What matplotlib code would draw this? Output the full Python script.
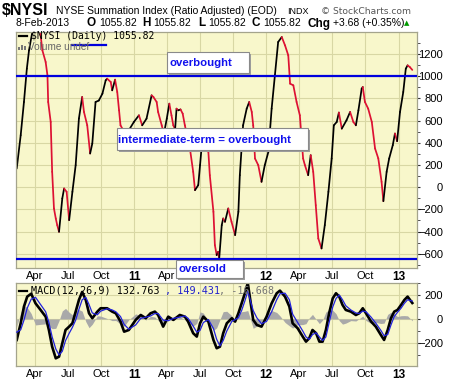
import matplotlib
matplotlib.use("Agg")
import matplotlib.pyplot as plt
import matplotlib.dates as mdates
import numpy as np
import pandas as pd
from matplotlib.collections import LineCollection
from matplotlib.patches import Rectangle
from matplotlib.lines import Line2D

# ---------------- data ----------------
nysi_dates = [
    "2010-02-10", "2010-02-21", "2010-03-02", "2010-03-10", "2010-03-16", "2010-04-02", "2010-04-13",
    "2010-04-22", "2010-05-01", "2010-05-06", "2010-05-08", "2010-05-15", "2010-05-19", "2010-05-24",
    "2010-05-29", "2010-06-02", "2010-06-07", "2010-06-16", "2010-06-21", "2010-06-28", "2010-07-05",
    "2010-07-14", "2010-07-23", "2010-08-01", "2010-08-10", "2010-08-15", "2010-08-24", "2010-09-01",
    "2010-09-07", "2010-09-16", "2010-09-25", "2010-10-05", "2010-10-14", "2010-10-18", "2010-10-28",
    "2010-11-01", "2010-11-09", "2010-11-15", "2010-11-20", "2010-11-24", "2010-12-09", "2010-12-31",
    "2011-01-14", "2011-01-23", "2011-02-04", "2011-02-18", "2011-02-23", "2011-03-04", "2011-03-08",
    "2011-03-18", "2011-03-24", "2011-04-01", "2011-04-08", "2011-04-14", "2011-04-19", "2011-04-24",
    "2011-04-28", "2011-05-03", "2011-05-09", "2011-05-15", "2011-05-21", "2011-06-04", "2011-06-13",
    "2011-06-18", "2011-06-27", "2011-07-02", "2011-07-06", "2011-07-16", "2011-07-25", "2011-07-29",
    "2011-08-08", "2011-08-12", "2011-08-17", "2011-08-21", "2011-08-24", "2011-08-31", "2011-09-04",
    "2011-09-09", "2011-09-18", "2011-09-27", "2011-10-07", "2011-10-16", "2011-10-20", "2011-10-29",
    "2011-11-08", "2011-11-15", "2011-11-22", "2011-11-26", "2011-12-01", "2011-12-10", "2011-12-19",
    "2011-12-28", "2012-01-07", "2012-01-16", "2012-01-25", "2012-02-03", "2012-02-13", "2012-02-22",
    "2012-03-02", "2012-03-07", "2012-03-16", "2012-03-25", "2012-04-03", "2012-04-12", "2012-04-17",
    "2012-04-26", "2012-05-03", "2012-05-10", "2012-05-17", "2012-05-24", "2012-06-02", "2012-06-11",
    "2012-06-21", "2012-06-30", "2012-07-06", "2012-07-14", "2012-07-20", "2012-07-28", "2012-08-10",
    "2012-08-20", "2012-08-29", "2012-09-05", "2012-09-12", "2012-09-21", "2012-09-24", "2012-09-30",
    "2012-10-09", "2012-10-19", "2012-10-28", "2012-11-06", "2012-11-15", "2012-11-20", "2012-11-29",
    "2012-12-06", "2012-12-16", "2012-12-22", "2012-12-28", "2013-01-05", "2013-01-14", "2013-01-21",
    "2013-01-26", "2013-02-01", "2013-02-08",
]
nysi_values = [
    168, 468, 767, 1067, 1232, 1540, 1480,
    1232, 1127, 1007, 767, 587, 138, -192,
    -282, -342, -402, -102, -12, -42, -297,
    -42, 198, 618, 812, 677, 557, 303,
    393, 767, 780, 842, 962, 977, 947,
    872, 968, 857, 692, 557, 470, 587,
    647, 557, 617, 827, 812, 767, 677,
    557, 480, 617, 752, 647, 557, 520,
    707, 692, 700, 662, 557, 348, 138,
    -27, 18, 198, 348, 500, 318, 108,
    -222, -522, -612, -582, -642, -342, -282,
    -312, -192, -312, -432, -222, 108, 557,
    707, 767, 677, 557, 258, 198, 48,
    198, 318, 707, 1007, 1307, 1352, 1277,
    1187, 932, 917, 767, 647, 258, 198,
    108, 288, 138, -162, -462, -552, -342,
    -42, 258, 557, 587, 672, 527, 602,
    677, 587, 557, 692, 887, 902, 767,
    707, 587, 348, 258, 48, -126, 138,
    258, 378, 483, 414, 677, 857, 1067,
    1097, 1082, 1056,
]

macd_dates = [
    "2010-02-10", "2010-02-21", "2010-03-02", "2010-03-11", "2010-03-22", "2010-04-03", "2010-04-17",
    "2010-05-01", "2010-05-10", "2010-05-19", "2010-05-29", "2010-06-07", "2010-06-16", "2010-06-25",
    "2010-07-05", "2010-07-14", "2010-07-23", "2010-08-01", "2010-08-10", "2010-08-20", "2010-08-29",
    "2010-09-07", "2010-09-21", "2010-09-30", "2010-10-18", "2010-11-01", "2010-11-11", "2010-11-24",
    "2010-12-04", "2010-12-17", "2011-01-05", "2011-01-19", "2011-02-02", "2011-02-15", "2011-02-27",
    "2011-03-08", "2011-03-22", "2011-04-05", "2011-04-19", "2011-05-07", "2011-05-21", "2011-05-30",
    "2011-06-13", "2011-06-23", "2011-07-02", "2011-07-11", "2011-07-25", "2011-08-08", "2011-08-17",
    "2011-08-26", "2011-09-04", "2011-09-14", "2011-09-28", "2011-10-07", "2011-10-16", "2011-10-25",
    "2011-11-03", "2011-11-11", "2011-11-26", "2011-12-06", "2011-12-19", "2012-01-02", "2012-01-16",
    "2012-01-30", "2012-02-08", "2012-02-22", "2012-03-05", "2012-03-14", "2012-03-28", "2012-04-11",
    "2012-04-20", "2012-04-29", "2012-05-08", "2012-05-18", "2012-05-27", "2012-06-05", "2012-06-14",
    "2012-06-23", "2012-07-03", "2012-07-12", "2012-07-21", "2012-07-30", "2012-08-08", "2012-08-22",
    "2012-09-05", "2012-09-14", "2012-09-24", "2012-10-03", "2012-10-17", "2012-10-30", "2012-11-13",
    "2012-11-22", "2012-12-02", "2012-12-11", "2012-12-20", "2012-12-29", "2013-01-08", "2013-01-17",
    "2013-01-26", "2013-02-08",
]
macd_values = [
    -175, -36, 103, 186, 210, 130, 75,
    19, -92, -231, -328, -314, -203, -92,
    -64, -36, 61, 158, 225, 158, 47,
    6, 61, 89, 89, 61, 47, -22,
    -106, -92, -8, 33, 6, 47, 61,
    33, -64, 19, -8, 33, 19, -22,
    -119, -147, -36, 19, -22, -175, -244,
    -231, -119, -36, 6, -22, 47, 130,
    214, 300, -8, -50, -64, 19, 130,
    214, 236, 186, 103, -36, -78, -147,
    -189, -161, -92, -119, -189, -189, -92,
    47, 172, 214, 186, 117, 75, 61,
    33, 47, 89, 47, -22, -64, -133,
    -175, -92, 6, 61, 75, 117, 158,
    186, 133,
]
signal_values = [
    -110, -90, -10, 90, 165, 180, 120,
    60, -30, -150, -250, -300, -270, -180,
    -120, -70, -10, 80, 160, 180, 120,
    50, 35, 65, 85, 75, 60, 20,
    -45, -85, -50, 5, 15, 25, 45,
    45, -10, -15, 5, 15, 25, 5,
    -60, -110, -95, -30, -5, -80, -170,
    -225, -180, -100, -20, -5, 10, 70,
    150, 230, 70, 10, -40, -20, 60,
    160, 210, 215, 160, 40, -30, -100,
    -150, -170, -130, -115, -150, -180, -150,
    -30, 100, 170, 200, 160, 110, 75,
    50, 45, 65, 60, 15, -35, -95,
    -140, -130, -50, 20, 55, 90, 130,
    160, 149,
]

overbought_level = 1000
oversold_level = -650
nysi_last = "1055.82"
macd_legend = ["MACD(12,26,9) 132.763", ", 149.431", ", -16.668"]
hidden_main_labels = ["2011-07-01", "2011-10-01"]  # covered by the "oversold" box

# ---------------- figure ----------------
W, H = 460, 383
fig = plt.figure(figsize=(W / 100, H / 100), dpi=100)
fig.patch.set_facecolor("white")

BG = "#F8F7CB"
GRID = "#D8D7A4"
EDGE = "#A4A48C"
SANS = ["Liberation Sans", "DejaVu Sans"]
MONO = ["DejaVu Sans Mono"]


def fx(px):
    return px / W


def fy(py):
    return 1 - py / H


ax = fig.add_axes([fx(16), fy(268), (417 - 16) / W, (268 - 31.7) / H])
ax2 = fig.add_axes([fx(16), fy(366), (417 - 16) / W, (366 - 282.7) / H])

xmin = mdates.date2num(pd.Timestamp("2010-02-08"))
xmax = mdates.date2num(pd.Timestamp("2013-02-21"))

# tick positions: quarters
tick_dates = pd.date_range("2010-04-01", "2013-01-01", freq="QS-JAN")
tick_pos = mdates.date2num(tick_dates)
hidden = set(pd.to_datetime(hidden_main_labels))

for a in (ax, ax2):
    a.set_facecolor(BG)
    a.set_xlim(xmin, xmax)
    for s in a.spines.values():
        s.set_color(EDGE)
        s.set_linewidth(0.9)
    labels = []
    for d in tick_dates:
        if a is ax and d in hidden:
            labels.append("")
        elif d.month == 1:
            labels.append(str(d.year)[2:])
        else:
            labels.append(d.strftime("%b"))
    a.set_xticks(tick_pos)
    a.set_xticklabels(labels)
    for lab, d in zip(a.get_xticklabels(), tick_dates):
        lab.set_fontfamily(SANS)
        lab.set_fontsize(8)
        if d.month == 1:
            lab.set_fontweight("bold")
            lab.set_fontsize(8.5)
    a.tick_params(axis="x", length=0, pad=2.5, colors="black")
    a.yaxis.tick_right()
    a.tick_params(axis="y", which="both", direction="out", length=2.2, pad=16.5,
                  colors="#333333", labelcolor="black", labelsize=8)
    a.grid(True, color=GRID, linewidth=0.8)
    a.set_axisbelow(True)

# ---------------- main panel ----------------
ax.set_ylim(-728, 1400)
ax.set_yticks(np.arange(-600, 1201, 200))
ax.set_yticks(np.arange(-700, 1400, 100), minor=True)
ax.grid(False, which="minor")
for lab in ax.get_yticklabels():
    lab.set_horizontalalignment("right")
    lab.set_fontfamily(SANS)

nx = mdates.date2num(pd.to_datetime(nysi_dates))
ny = np.array(nysi_values, dtype=float)
pts = np.column_stack([nx, ny])
segs = np.stack([pts[:-1], pts[1:]], axis=1)
cols = ["#000000" if ny[i + 1] >= ny[i] else "#DD1133" for i in range(len(ny) - 1)]
lc = LineCollection(segs, colors=cols, linewidths=1.25, zorder=2, capstyle="round", joinstyle="round")
ax.add_collection(lc)

ax.axhline(overbought_level, color="#0000DD", lw=1.6, zorder=3)
ax.axhline(oversold_level, color="#0000DD", lw=1.6, zorder=3)

# ---------------- MACD panel ----------------
ax2.set_ylim(-392, 302)
ax2.set_yticks([-200, 0, 200])
ax2.set_yticks(np.arange(-300, 301, 100), minor=True)
ax2.grid(False, which="minor")
for lab in ax2.get_yticklabels():
    lab.set_horizontalalignment("right")
    lab.set_fontfamily(SANS)

mx = mdates.date2num(pd.to_datetime(macd_dates))
mv = np.array(macd_values, dtype=float)
sv = np.array(signal_values, dtype=float)
hist = mv - sv
ax2.fill_between(mx, hist, 0, color="#A9A9A9", lw=0, zorder=1)
ax2.plot(mx, mv, color="black", lw=1.9, zorder=2, solid_joinstyle="round")
ax2.plot(mx, sv, color="#2222DD", lw=0.9, zorder=3)


# ---------------- header texts ----------------
def t(x, y, s, **kw):
    kw.setdefault("family", SANS)
    kw.setdefault("va", "center")
    fig.text(fx(x), fy(y), s, **kw)


t(1.5, 10.5, "$NYSI", size=11.5, weight="bold")
t(56.5, 11, "NYSE Summation Index (Ratio Adjusted) (EOD)", size=7.5)
t(287.5, 11, "INDX", size=6.5)
t(321, 11, "\u00a9 StockCharts.com", size=6.6, color="#555555", family=["DejaVu Sans"])

t(16, 23.5, "8-Feb-2013", size=7.5)
t(86.5, 23.5, "O", size=8.5, weight="bold")
t(99, 23.5, "1055.82", size=7.5)
t(142.5, 23.5, "H", size=8.5, weight="bold")
t(153, 23.5, "1055.82", size=7.5)
t(198.5, 23.5, "L", size=8.5, weight="bold")
t(208, 23.5, "1055.82", size=7.5)
t(252, 23.5, "C", size=8.5, weight="bold")
t(263, 23.5, "1055.82", size=7.5)
t(307, 23.5, "Chg", size=8.5, weight="bold")
t(333, 23.5, "+3.68 (+0.35%)", size=7.5)
t(404, 23.5, "\u25b2", size=5, color="#009900", family=["DejaVu Sans"])

# legends inside panels
fig.add_artist(Line2D([fx(19), fx(27)], [fy(35.7), fy(35.7)], color="black", lw=1.6))
t(31, 35.7, "$NYSI (Daily) " + nysi_last, size=7, family=MONO)
for i, h in enumerate([3, 5, 4]):
    fig.add_artist(Rectangle((fx(18.5 + i * 2.8), fy(50)), 2.0 / W, h / H,
                             transform=fig.transFigure, color="#777777", lw=0))
t(28.5, 46.5, "Volume undef", size=7.2, color="#666666")
fig.add_artist(Line2D([fx(71.7), fx(106)], [fy(45), fy(45)], color="#0000DD", lw=1.6))

fig.add_artist(Line2D([fx(19), fx(27)], [fy(290.7), fy(290.7)], color="black", lw=1.6))
t(31.5, 290.7, macd_legend[0], size=7.3, family=MONO, color="black")
t(165.5, 290.7, macd_legend[1], size=7.3, family=MONO, color="#2222CC")
t(219.5, 290.7, macd_legend[2], size=7.3, family=MONO, color="#777777")


# ---------------- annotation boxes ----------------
def box(x0, y0, x1, y1, text, tx):
    fig.add_artist(Rectangle((fx(x0 + 2), fy(y1 + 2)), (x1 - x0) / W, (y1 - y0) / H,
                             transform=fig.transFigure, facecolor="#9C9C9C", edgecolor="none",
                             zorder=5))
    fig.add_artist(Rectangle((fx(x0), fy(y1)), (x1 - x0) / W, (y1 - y0) / H,
                             transform=fig.transFigure, facecolor="white", edgecolor="#8A8A8A",
                             lw=0.8, zorder=6))
    fig.text(fx(tx), fy((y0 + y1) / 2 + 0.5), text, color="#1010EE", weight="bold", size=8.2,
             family=SANS, va="center", ha="left", zorder=7)


box(167.3, 51.5, 249.3, 73.3, "overbought", 170)
box(116.7, 128.3, 308, 150, "intermediate-term = overbought", 118.5)
box(176.3, 260, 243.3, 278, "oversold", 178.5)

fig.savefig("out.png", dpi=100, facecolor="white")
